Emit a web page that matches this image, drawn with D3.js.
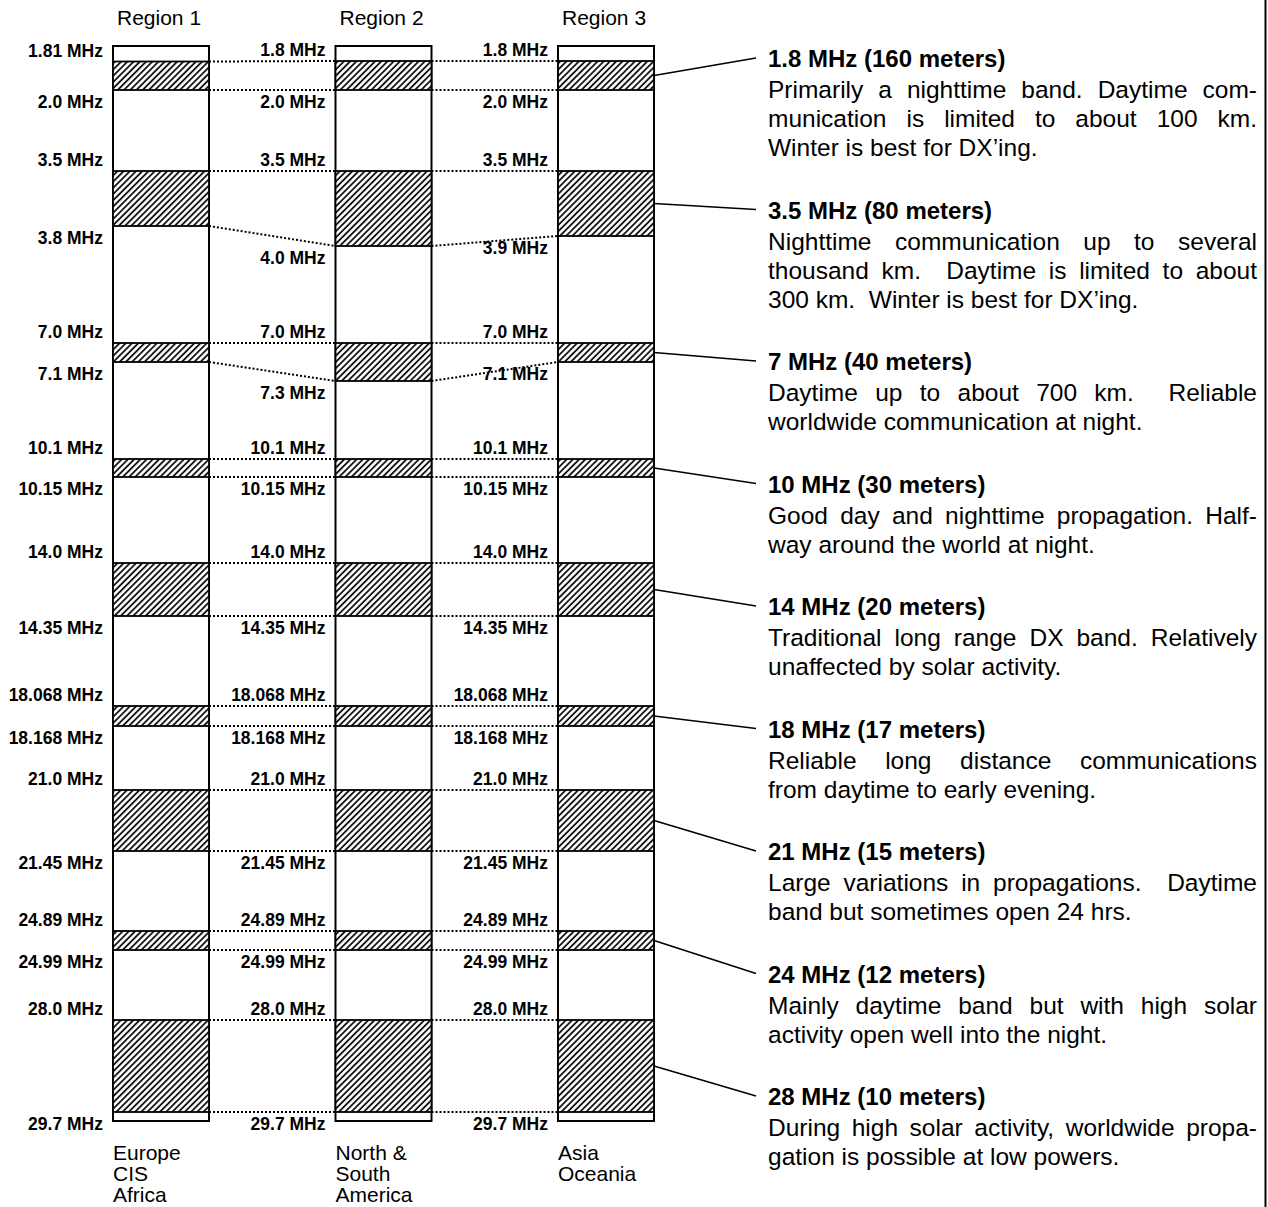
<!DOCTYPE html>
<html>
<head>
<meta charset="utf-8">
<script src="https://cdn.jsdelivr.net/npm/d3@7"></script>
<style>
  body { margin: 0; background: #fff; }
  svg { display: block; }
  text { font-family: "Liberation Sans", Arial, Helvetica, sans-serif; fill: #000; }
</style>
</head>
<body>
<script>
const regions     = ['Region 1', 'Region 2', 'Region 3'];
const regionAreas = [['Europe', 'CIS', 'Africa'], ['North &', 'South', 'America'], ['Asia', 'Oceania']];

// band limits per region, MHz
const bandStart = [
  [1.81, 3.5, 7.0, 10.1, 14.0, 18.068, 21.0, 24.89, 28.0],
  [1.8,  3.5, 7.0, 10.1, 14.0, 18.068, 21.0, 24.89, 28.0],
  [1.8,  3.5, 7.0, 10.1, 14.0, 18.068, 21.0, 24.89, 28.0]
];
const bandEnd = [
  [2.0, 3.8, 7.1, 10.15, 14.35, 18.168, 21.45, 24.99, 29.7],
  [2.0, 4.0, 7.3, 10.15, 14.35, 18.168, 21.45, 24.99, 29.7],
  [2.0, 3.9, 7.1, 10.15, 14.35, 18.168, 21.45, 24.99, 29.7]
];

const bandTitles = [
  '1.8 MHz (160 meters)', '3.5 MHz (80 meters)', '7 MHz (40 meters)',
  '10 MHz (30 meters)', '14 MHz (20 meters)', '18 MHz (17 meters)',
  '21 MHz (15 meters)', '24 MHz (12 meters)', '28 MHz (10 meters)'
];
const bandNotes = [
  ['Primarily a nighttime band. Daytime com-', 'munication is limited to about 100 km.', 'Winter is best for DX\u2019ing.'],
  ['Nighttime communication up to several', 'thousand km.  Daytime is limited to about', '300 km.  Winter is best for DX\u2019ing.'],
  ['Daytime up to about 700 km.  Reliable', 'worldwide communication at night.'],
  ['Good day and nighttime propagation. Half-', 'way around the world at night.'],
  ['Traditional long range DX band. Relatively', 'unaffected by solar activity.'],
  ['Reliable long distance communications', 'from daytime to early evening.'],
  ['Large variations in propagations.  Daytime', 'band but sometimes open 24 hrs.'],
  ['Mainly daytime band but with high solar', 'activity open well into the night.'],
  ['During high solar activity, worldwide propa-', 'gation is possible at low powers.']
];

const width  = 1268;
const height = 1207;

const svg = d3.select('body').append('svg')
    .attr('width', width)
    .attr('height', height);

// hatch pattern "/"
svg.append('defs').append('pattern')
    .attr('id', 'hatch')
    .attr('patternUnits', 'userSpaceOnUse')
    .attr('width', 4.4).attr('height', 4.4)
    .attr('patternTransform', 'rotate(45)')
  .call(p => {
    p.append('rect').attr('width', 4.4).attr('height', 4.4).attr('fill', '#fff');
    p.append('line').attr('x1', 1).attr('x2', 1).attr('y1', 0).attr('y2', 4.4)
      .attr('stroke', '#000').attr('stroke-width', 1.7);
  });

const x = d3.scaleBand()
    .domain(regions)
    .range([113, 654])
    .paddingInner(0.5685)
    .paddingOuter(0);
const bw = x.bandwidth();

// chart is schematic, not to scale: piecewise stops for each band edge
const edges = Array.from(new Set(bandStart.flat().concat(bandEnd.flat()))).sort(d3.ascending);
const y = d3.scaleLinear()
    .domain(edges)
    .range([61, 61.5, 90, 171, 226, 236, 246, 343, 362, 381, 459, 477, 563, 616, 706, 726, 790, 851, 931, 950, 1020, 1112]);

const fmt = d => (Number.isInteger(d) ? d.toFixed(1) : String(d)) + ' MHz';
const yTop = y(edges[0]) - 15;
const yBot = y(edges[edges.length - 1]) + 9;

// dotted connectors between regions
const conn = svg.append('g')
    .attr('stroke', '#000')
    .attr('stroke-width', 2)
    .attr('stroke-dasharray', '2,2');
for (let r = 0; r < regions.length - 1; r++) {
  [bandStart, bandEnd].forEach(arr => {
    arr[r].forEach((f, i) => {
      conn.append('line')
        .attr('x1', x(regions[r]) + bw)
        .attr('y1', y(f))
        .attr('x2', x(regions[r + 1]))
        .attr('y2', y(arr[r + 1][i]));
    });
  });
}

regions.forEach((name, r) => {
  const g = svg.append('g').attr('transform', 'translate(' + x(name) + ',0)');

  g.append('text')
    .attr('x', 4).attr('y', 25)
    .style('font-size', '21px')
    .text(name);

  g.append('rect')
    .attr('x', 0).attr('y', yTop)
    .attr('width', bw).attr('height', yBot - yTop)
    .attr('fill', '#fff').attr('stroke', '#000').attr('stroke-width', 2);

  g.selectAll('rect.band')
    .data(bandStart[r].map((s, i) => ({s, e: bandEnd[r][i]})))
    .enter().append('rect')
    .attr('class', 'band')
    .attr('x', 0).attr('width', bw)
    .attr('y', d => y(d.s))
    .attr('height', d => y(d.e) - y(d.s))
    .attr('fill', 'url(#hatch)')
    .attr('stroke', '#000').attr('stroke-width', 1.8);

  const lab = g.append('g')
    .attr('text-anchor', 'end')
    .style('font-size', '17.5px')
    .style('font-weight', 'bold');
  bandStart[r].forEach((s, i) => {
    lab.append('text').attr('x', -10).attr('y', y(s) - 5).text(fmt(s));
    lab.append('text').attr('x', -10).attr('y', y(bandEnd[r][i]) + 18).text(fmt(bandEnd[r][i]));
  });

  g.selectAll('text.area')
    .data(regionAreas[r])
    .enter().append('text')
    .attr('class', 'area')
    .attr('x', 0)
    .attr('y', (d, i) => 1160 + i * 21)
    .style('font-size', '21px')
    .text(d => d);
});

// band descriptions on the right
const textX  = 768;
const textR  = 1257;
const fs     = '24.5px';
const last   = regions.length - 1;
const notes  = svg.append('g');
let hb = 67;

const measure = svg.append('text').style('font-size', fs).style('white-space', 'pre');
const wordWidth = w => { measure.text(w); return measure.node().getComputedTextLength(); };

bandTitles.forEach((title, i) => {
  notes.append('text')
    .attr('x', textX).attr('y', hb)
    .style('font-size', '24px').style('font-weight', 'bold')
    .text(title);

  notes.append('line')
    .attr('x1', x(regions[last]) + bw)
    .attr('y1', (y(bandStart[last][i]) + y(bandEnd[last][i])) / 2)
    .attr('x2', textX - 12)
    .attr('y2', hb - 9)
    .attr('stroke', '#000').attr('stroke-width', 1.6);

  let ly = hb + 31;
  bandNotes[i].forEach((line, k) => {
    const t = notes.append('text')
      .attr('y', ly)
      .style('font-size', fs)
      .style('white-space', 'pre');
    if (k === bandNotes[i].length - 1) {
      t.attr('x', textX).text(line);
    } else {
      // justify: spread the gaps between words
      const words  = line.split(/ +/);
      const gaps   = (line.match(/ +/g) || []).map(s => s.length);
      const widths = words.map(wordWidth);
      const unit   = (textR - textX - d3.sum(widths)) / d3.sum(gaps);
      let cx = textX;
      words.forEach((w, j) => {
        t.append('tspan').attr('x', cx).text(w);
        cx += widths[j] + (gaps[j] || 0) * unit;
      });
    }
    ly += 29;
  });
  hb = ly - 29 + 62.5;
});
measure.remove();

// frame line on the right
svg.append('line')
  .attr('x1', 1265.5).attr('x2', 1265.5)
  .attr('y1', 0).attr('y2', height)
  .attr('stroke', '#000').attr('stroke-width', 2);
</script>
</body>
</html>
